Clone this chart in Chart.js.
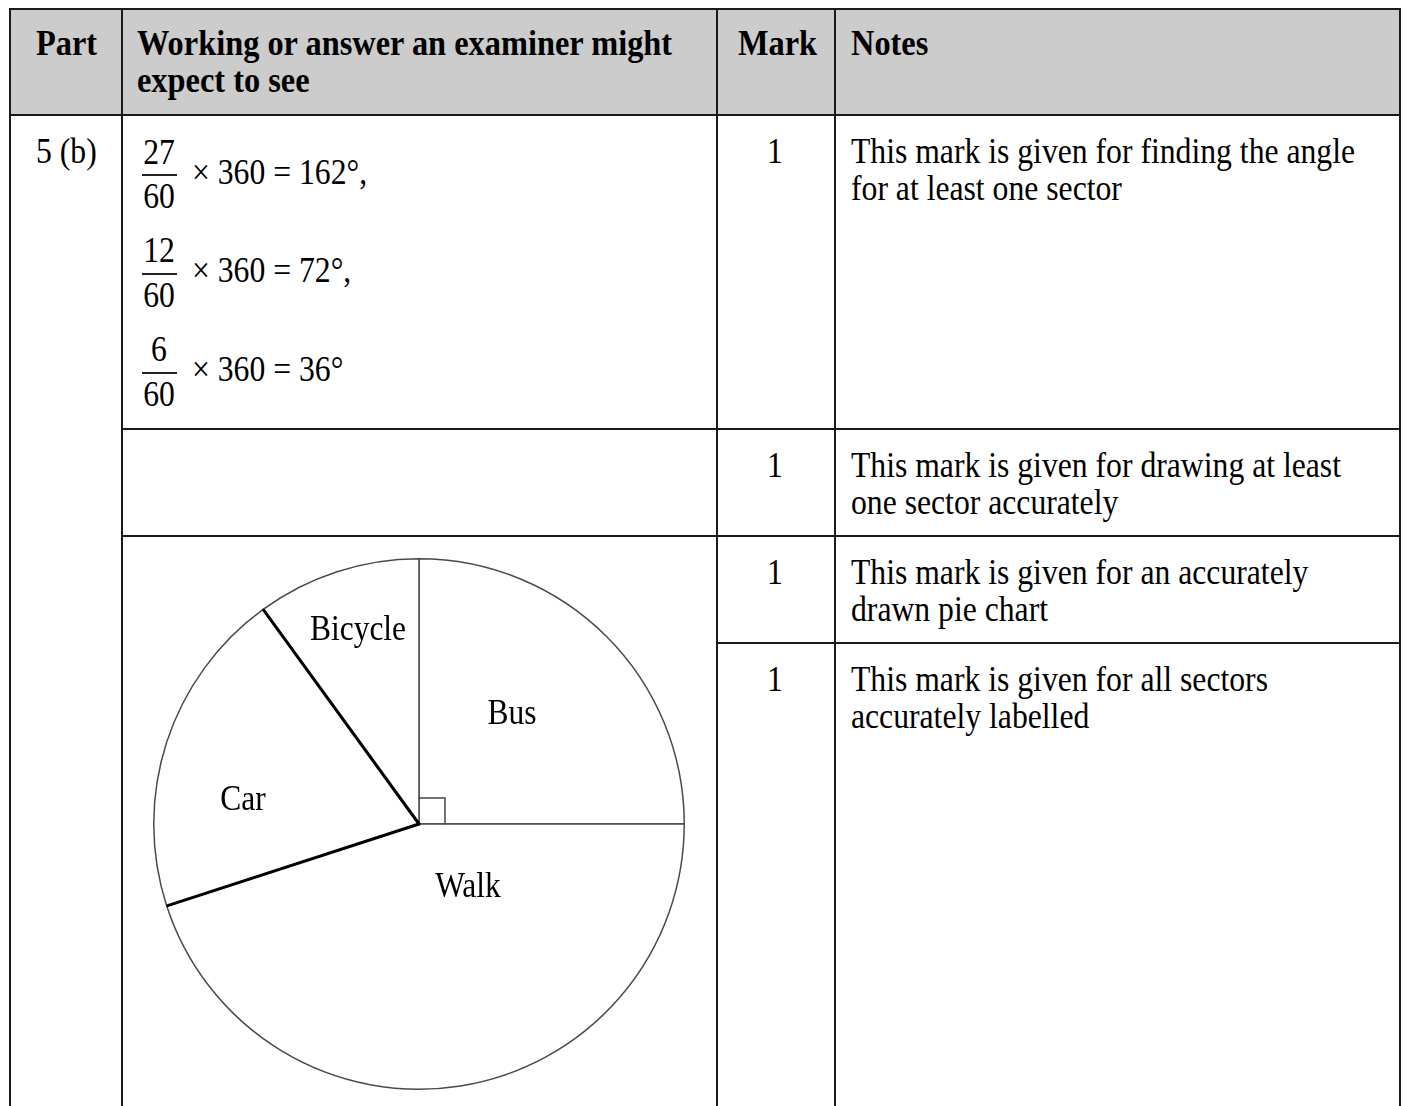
<!DOCTYPE html>
<html>
<head>
<meta charset="utf-8">
<title>Pie chart mark scheme</title>
<script src="https://cdn.jsdelivr.net/npm/chart.js@4.4.1/dist/chart.umd.min.js"></script>
<style>
  body { margin: 0; background: #fff; width: 1405px; height: 1106px; overflow: hidden; position: relative; }
  .ln { position: absolute; background: #1a1a1a; }
  .hd { position: absolute; background: #cccccc; }
  .t {
    position: absolute; font-family: 'Liberation Serif', 'Times New Roman', serif; font-size: 35px;
    line-height: 37px; color: #000; white-space: nowrap; transform: scaleX(0.905); transform-origin: 0 0;
  }
  .b { font-weight: bold; transform: scaleX(0.925); }
  .c { transform-origin: 50% 0; text-align: center; }
  #pie { position: absolute; left: 139px; top: 544px; }
</style>
</head>
<body>
<!-- header background -->
<div class="hd" style="left:10px; top:9px; width:1390px; height:106px;"></div>

<!-- table rules -->
<div class="ln" style="left:9px; top:8px; width:1392px; height:2px;"></div>
<div class="ln" style="left:9px; top:114px; width:1392px; height:2px;"></div>
<div class="ln" style="left:9px; top:8px; width:2px; height:1100px;"></div>
<div class="ln" style="left:1399px; top:8px; width:2px; height:1100px;"></div>
<div class="ln" style="left:121px; top:8px; width:2px; height:1100px;"></div>
<div class="ln" style="left:716px; top:8px; width:2px; height:1100px;"></div>
<div class="ln" style="left:834px; top:8px; width:2px; height:1100px;"></div>
<div class="ln" style="left:121px; top:428px; width:1280px; height:2px;"></div>
<div class="ln" style="left:121px; top:535px; width:1280px; height:2px;"></div>
<div class="ln" style="left:716px; top:642px; width:685px; height:2px;"></div>

<!-- header text -->
<div class="t b" style="left:36px; top:25px;">Part</div>
<div class="t b" style="left:137px; top:25px;">Working or answer an examiner might<br>expect to see</div>
<div class="t b" style="left:738px; top:25px;">Mark</div>
<div class="t b" style="left:851px; top:25px;">Notes</div>

<!-- part -->
<div class="t" style="left:36px; top:133px;">5 (b)</div>

<!-- working: fractions -->
<div class="t c" style="left:139px; width:40px; top:134px;">27</div>
<div class="ln" style="left:142px; top:174px; width:35px; height:2px; background:#222;"></div>
<div class="t c" style="left:139px; width:40px; top:178px;">60</div>
<div class="t" style="left:192px; top:154px;">× 360 = 162°,</div>

<div class="t c" style="left:139px; width:40px; top:232px;">12</div>
<div class="ln" style="left:142px; top:273px; width:35px; height:2px; background:#222;"></div>
<div class="t c" style="left:139px; width:40px; top:277px;">60</div>
<div class="t" style="left:192px; top:252px;">× 360 = 72°,</div>

<div class="t c" style="left:139px; width:40px; top:331px;">6</div>
<div class="ln" style="left:142px; top:372px; width:35px; height:2px; background:#222;"></div>
<div class="t c" style="left:139px; width:40px; top:376px;">60</div>
<div class="t" style="left:192px; top:351px;">× 360 = 36°</div>

<!-- marks -->
<div class="t c" style="left:755px; width:40px; top:133px;">1</div>
<div class="t c" style="left:755px; width:40px; top:447px;">1</div>
<div class="t c" style="left:755px; width:40px; top:554px;">1</div>
<div class="t c" style="left:755px; width:40px; top:661px;">1</div>

<!-- notes -->
<div class="t" style="left:851px; top:133px;">This mark is given for finding the angle<br>for at least one sector</div>
<div class="t" style="left:851px; top:447px;">This mark is given for drawing at least<br>one sector accurately</div>
<div class="t" style="left:851px; top:554px;">This mark is given for an accurately<br>drawn pie chart</div>
<div class="t" style="left:851px; top:661px;">This mark is given for all sectors<br>accurately labelled</div>

<canvas id="pie" width="560" height="560"></canvas>

<script>
// Data (60 pupils)
const categories = ['Bus', 'Walk', 'Car', 'Bicycle'];
const pupils = [15, 27, 12, 6];

// Label offsets from the centre (px), placed as in the original drawing
const labelOffsets = [[93, -109], [49, 64], [-176, -23], [-61, -193]];
// Sectors whose edges are drawn heavy
const heavySectors = ['Car'];

// Plugin: heavy edges, right-angle mark and sector names
const pieDecor = {
    id: 'pieDecor',
    afterDatasetsDraw(chart) {
        const ctx = chart.ctx;
        const arcs = chart.getDatasetMeta(0).data;
        const cx = arcs[0].x;
        const cy = arcs[0].y;
        const r = arcs[0].outerRadius;

        ctx.save();
        // heavy lines
        ctx.strokeStyle = '#000';
        ctx.lineWidth = 3;
        ctx.lineCap = 'round';
        categories.forEach((name, i) => {
            if (!heavySectors.includes(name)) return;
            [arcs[i].startAngle, arcs[i].endAngle].forEach(a => {
                ctx.beginPath();
                ctx.moveTo(cx, cy);
                ctx.lineTo(cx + (r - 1) * Math.cos(a), cy + (r - 1) * Math.sin(a));
                ctx.stroke();
            });
        });

        // right-angle mark in the 90 degree sector
        categories.forEach((name, i) => {
            const span = arcs[i].endAngle - arcs[i].startAngle;
            if (Math.abs(span - Math.PI / 2) > 1e-6) return;
            const s = 26;
            const a0 = arcs[i].startAngle, a1 = arcs[i].endAngle;
            const p0 = [cx + s * Math.cos(a0), cy + s * Math.sin(a0)];
            const p1 = [cx + s * Math.cos(a1), cy + s * Math.sin(a1)];
            ctx.strokeStyle = '#444';
            ctx.lineWidth = 1.5;
            ctx.beginPath();
            ctx.moveTo(p0[0], p0[1]);
            ctx.lineTo(p0[0] + p1[0] - cx, p0[1] + p1[1] - cy);
            ctx.lineTo(p1[0], p1[1]);
            ctx.stroke();
        });

        // sector names
        ctx.fillStyle = '#000';
        ctx.font = '35px "Liberation Serif", "Times New Roman", serif';
        ctx.textAlign = 'center';
        ctx.textBaseline = 'middle';
        categories.forEach((name, i) => {
            ctx.save();
            ctx.translate(cx + labelOffsets[i][0], cy + labelOffsets[i][1]);
            ctx.scale(0.9, 1);
            ctx.fillText(name, 0, 0);
            ctx.restore();
        });
        ctx.restore();
    }
};

const pieChart = new Chart(document.getElementById('pie').getContext('2d'), {
    type: 'pie',
    data: {
        labels: categories,
        datasets: [{
            data: pupils,
            backgroundColor: '#ffffff',
            borderColor: '#4a4a4a',
            borderWidth: 1.5
        }]
    },
    options: {
        responsive: false,
        animation: false,
        layout: { padding: 14 },
        plugins: {
            legend: { display: false },
            tooltip: { enabled: false }
        }
    },
    plugins: [pieDecor]
});
</script>
</body>
</html>
